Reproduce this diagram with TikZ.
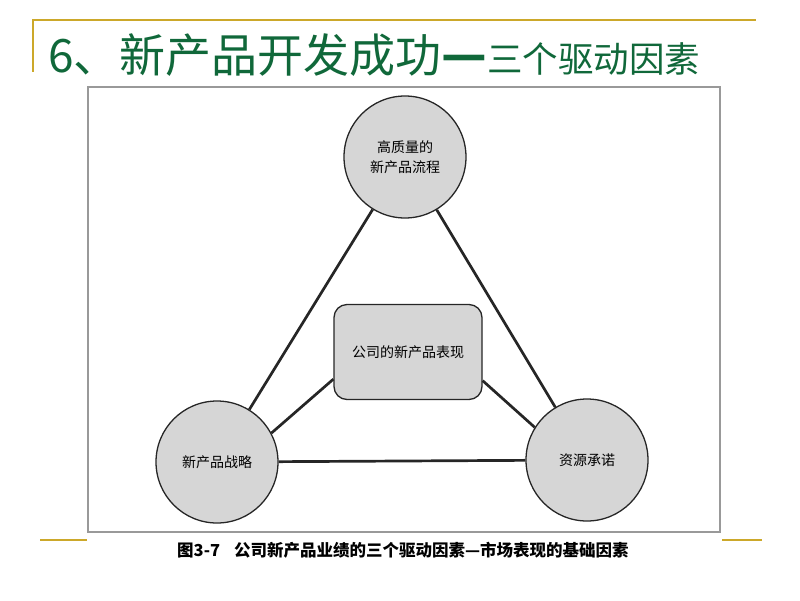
\documentclass[tikz,border=0pt]{standalone}
\usepackage{fontspec}
\newfontfamily\cjk{Noto Sans CJK SC}
\definecolor{titlegreen}{RGB}{16,104,58}
\definecolor{gold}{RGB}{204,168,42}
\definecolor{discgray}{RGB}{214,214,214}

\begin{document}
\begin{tikzpicture}[x=1pt,y=-1pt,
    driver/.style={circle,draw=black!85,line width=1.3pt,fill=discgray,minimum size=122pt,inner sep=0pt,align=center,font=\cjk\fontsize{14}{20}\selectfont},
    core/.style={rectangle,rounded corners=13pt,draw=black!85,line width=1.3pt,fill=discgray,minimum width=148pt,minimum height=95pt,font=\cjk\fontsize{14}{20}\selectfont},
    link/.style={line width=2.7pt,black!85},
    rule/.style={gold,line width=2pt}]
    \useasboundingbox (0,0) rectangle (800,600);

    % slide title and rules
    \draw[rule] (32,20) -- (756,20);
    \draw[rule] (33,20) -- (33,72);
    \node[anchor=base west,inner sep=0pt,text=titlegreen] (title) at (48,72)
        {\cjk\fontsize{46}{46}\selectfont 6、新产品开发成功{\bfseries\fontsize{50}{50}\selectfont —}\fontsize{35.5}{35.5}\selectfont 三个驱动因素};

    % scanned figure frame
    \draw[gray!80,line width=1.1pt] (88,87) rectangle (720,532);
    \draw[rule] (40,540) -- (87,540);
    \draw[rule] (722,540) -- (762,540);

    \node[driver] (process) at (405,157) {高质量的\\新产品流程};
    \node[driver] (strategy) at (217,462) {新产品战略};
    \node[driver] (resource) at (587,460) {资源承诺};
    \node[core] (perf) at (408,352) {公司的新产品表现};

    \draw[link] (process) -- (strategy);
    \draw[link] (process) -- (resource);
    \draw[link] (strategy) -- (resource);
    \draw[link] (perf.200.7) -- (strategy.28);
    \draw[link] (perf.339.3) -- (resource.148);

    \node[anchor=west,inner sep=0pt,font=\cjk\bfseries\fontsize{16.5}{16.5}\selectfont] (caption) at (177,550)
        {图3-7\hspace{14pt}公司新产品业绩的三个驱动因素—市场表现的基础因素};
\end{tikzpicture}
\end{document}
